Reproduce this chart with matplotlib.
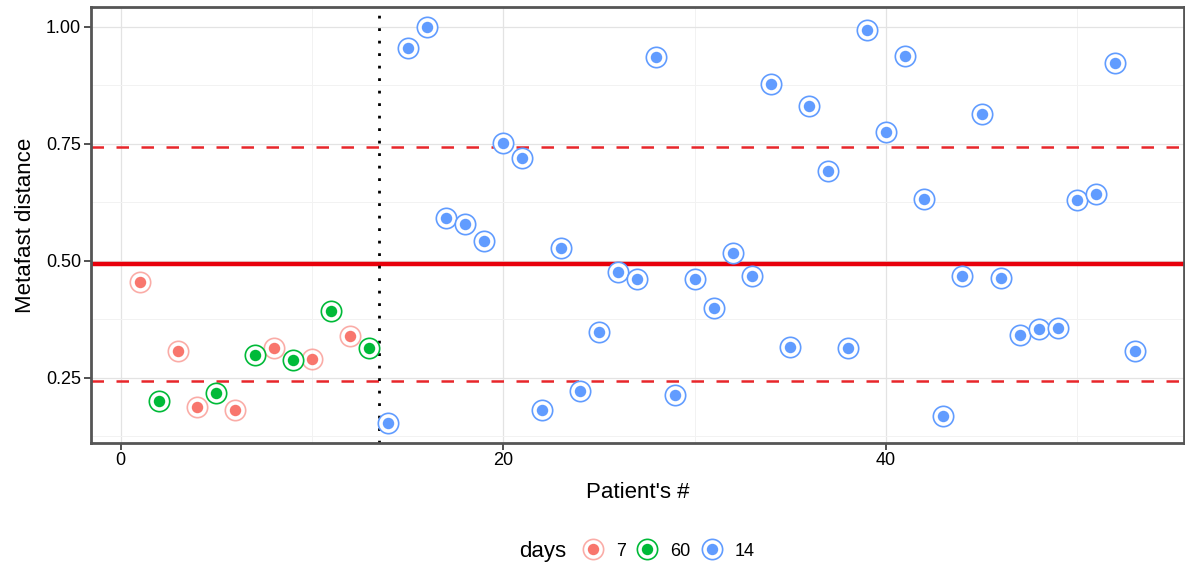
import matplotlib.pyplot as plt
from matplotlib.lines import Line2D
from matplotlib.legend_handler import HandlerTuple

plt.rcParams['font.family'] = ['Liberation Sans', 'DejaVu Sans']

# Metafast distance per patient, grouped by sampling day
patient = list(range(1, 54))
distance = [0.455, 0.200, 0.308, 0.187, 0.218, 0.180, 0.298, 0.314, 0.288, 0.289,
            0.392, 0.338, 0.313, 0.153, 0.955, 1.000, 0.592, 0.579, 0.542, 0.752,
            0.720, 0.181, 0.526, 0.222, 0.348, 0.476, 0.460, 0.934, 0.212, 0.461,
            0.398, 0.516, 0.468, 0.878, 0.316, 0.831, 0.691, 0.313, 0.993, 0.774,
            0.937, 0.631, 0.169, 0.468, 0.813, 0.462, 0.341, 0.353, 0.356, 0.629,
            0.643, 0.923, 0.306]
days = ['7', '60', '7', '7', '60', '7', '60', '7', '60', '7', '60', '7', '60'] + ['14'] * 40

day_order = ['7', '60', '14']
day_colors = {'7': '#F8766D', '60': '#00BA38', '14': '#619CFF'}

mean_dist = 0.493
lower_bound = 0.243
upper_bound = 0.743
split_at = 13.5

fig = plt.figure(figsize=(11.85, 5.7), dpi=100)
ax = fig.add_axes([0.0765, 0.2233, 0.9229, 0.7637])

for d in day_order:
    xs = [p for p, g in zip(patient, days) if g == d]
    ys = [v for v, g in zip(distance, days) if g == d]
    ring_alpha = 0.6 if d == '7' else 1.0
    ax.scatter(xs, ys, s=215, facecolor='white', edgecolor=day_colors[d],
               linewidth=1.2, alpha=ring_alpha, zorder=3)
    ax.scatter(xs, ys, s=68, color=day_colors[d], linewidth=0, zorder=4)

ax.axhline(mean_dist, color='#E8000B', lw=3.2, zorder=2)
ax.axhline(upper_bound, color='#E8262B', lw=1.8, ls=(0, (5, 5)), zorder=2)
ax.axhline(lower_bound, color='#E8262B', lw=1.8, ls=(0, (5, 5)), zorder=2)
ax.axvline(split_at, color='black', lw=2, ls=(0, (1, 3.5)), zorder=2)

ax.set_xlim(-1.57, 55.6)
ax.set_ylim(0.111, 1.041)
ax.set_xticks([0, 20, 40])
ax.set_yticks([0.25, 0.50, 0.75, 1.00])
ax.set_yticklabels(['0.25', '0.50', '0.75', '1.00'])
ax.set_xticks([10, 30, 50], minor=True)
ax.set_yticks([0.125, 0.375, 0.625, 0.875], minor=True)
ax.grid(True, which='major', color='#e3e3e3', lw=0.9, zorder=0)
ax.grid(True, which='minor', color='#f2f2f2', lw=0.7, zorder=0)
ax.tick_params(which='minor', length=0)
ax.tick_params(which='major', length=5, width=1.2, color='#333333',
               labelsize=13, labelcolor='black', pad=2)
ax.set_axisbelow(True)
for s in ax.spines.values():
    s.set_color('#555555')
    s.set_linewidth(2)

ax.set_xlabel("Patient's #", fontsize=16, labelpad=9)
ax.set_ylabel('Metafast distance', fontsize=16, labelpad=7)

# legend laid out horizontally with the title on the left
handles = []
for d in day_order:
    ring = Line2D([], [], ls='none', marker='o', markersize=14.6, markerfacecolor='white',
                  markeredgecolor=day_colors[d], markeredgewidth=1.2,
                  alpha=0.6 if d == '7' else 1.0)
    dot = Line2D([], [], ls='none', marker='o', markersize=8.2,
                 markerfacecolor=day_colors[d], markeredgewidth=0)
    handles.append((ring, dot))
fig.text(0.4775, 0.033, 'days', fontsize=16, ha='right', va='center')
fig.legend(handles, day_order, handler_map={tuple: HandlerTuple(ndivide=1)},
           loc='center left', bbox_to_anchor=(0.4915, 0.033), ncol=3, frameon=False,
           fontsize=13, handlelength=1.2, handletextpad=0.65, columnspacing=0.6,
           borderaxespad=0, borderpad=0)

fig.savefig('out.png', dpi=100)
